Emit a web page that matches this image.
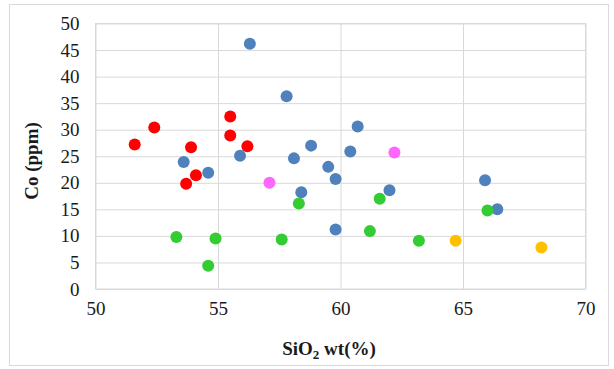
<!DOCTYPE html>
<html>
<head>
<meta charset="utf-8">
<script src="https://cdn.jsdelivr.net/npm/d3@7"></script>
<style>
  body { margin: 0; background: #fff; }
</style>
</head>
<body>
<div class="scatter"></div>
<script>
const xTicks = [50, 55, 60, 65, 70];
const yTicks = [0, 5, 10, 15, 20, 25, 30, 35, 40, 45, 50];

// SiO2 wt% / Co ppm per group
const redSiO2 = [51.6, 52.4, 53.9, 55.5, 55.5, 56.2, 54.1, 53.7];
const redCo = [27.2, 30.4, 26.7, 32.5, 28.9, 26.9, 21.4, 19.8];

const blueSiO2 = [56.3, 57.8, 60.7, 58.8, 60.4, 55.9, 58.1, 54.6, 59.5, 59.8, 58.4, 62.0, 59.8, 53.6, 65.9, 66.4];
const blueCo = [46.2, 36.3, 30.6, 27.0, 25.9, 25.1, 24.6, 21.9, 23.0, 20.7, 18.2, 18.6, 11.2, 23.9, 20.5, 15.0];

const greenSiO2 = [58.3, 61.6, 61.2, 54.9, 57.6, 54.6, 53.3, 66.0, 63.2];
const greenCo = [16.1, 17.0, 10.9, 9.5, 9.3, 4.4, 9.8, 14.8, 9.1];

const pinkSiO2 = [57.1, 62.2];
const pinkCo = [20.0, 25.7];

const orangeSiO2 = [64.7, 68.2];
const orangeCo = [9.1, 7.8];

const groups = [
  { x: redSiO2, y: redCo, color: '#ff0000' },
  { x: blueSiO2, y: blueCo, color: '#4f81bd' },
  { x: greenSiO2, y: greenCo, color: '#33cc33' },
  { x: pinkSiO2, y: pinkCo, color: '#ff66ff' },
  { x: orangeSiO2, y: orangeCo, color: '#ffc000' },
];

const serif = 'Liberation Serif';
const width = 614;
const height = 369;
const margin = { top: 23.5, right: 28.5, bottom: 80, left: 95.5 };

const svg = d3
  .select('.scatter')
  .append('svg')
  .attr('width', width)
  .attr('height', height);

svg
  .append('rect')
  .attr('x', 9.5)
  .attr('y', 4.5)
  .attr('width', 599)
  .attr('height', 361)
  .attr('fill', 'none')
  .attr('stroke', '#d9d9d9');

const xScale = d3
  .scaleLinear()
  .domain([50, 70])
  .range([margin.left, width - margin.right]);

const yScale = d3
  .scaleLinear()
  .domain([0, 50])
  .range([height - margin.bottom, margin.top]);

const xAxis = d3
  .axisBottom(xScale)
  .tickValues(xTicks)
  .tickSize(-(yScale(0) - yScale(50)))
  .tickPadding(13);

const yAxis = d3
  .axisLeft(yScale)
  .tickValues(yTicks)
  .tickSize(-(xScale(70) - xScale(50)))
  .tickPadding(16);

const gx = svg
  .append('g')
  .attr('transform', `translate(0, ${yScale(0)})`)
  .call(xAxis);

const gy = svg
  .append('g')
  .attr('transform', `translate(${xScale(50)}, 0)`)
  .call(yAxis);

[gx, gy].forEach((g) => {
  g.select('.domain').remove();
  g.selectAll('line').attr('stroke', '#d9d9d9');
  g.selectAll('text')
    .style('font-family', serif)
    .style('font-size', '19px')
    .style('fill', '#1a1a1a');
});

svg
  .append('rect')
  .attr('x', xScale(50))
  .attr('y', yScale(50))
  .attr('width', xScale(70) - xScale(50))
  .attr('height', yScale(0) - yScale(50))
  .attr('fill', 'none')
  .attr('stroke', '#d9d9d9');

groups.forEach((grp) => {
  svg
    .append('g')
    .selectAll('circle')
    .data(grp.x)
    .enter()
    .append('circle')
    .attr('cx', (d) => xScale(d))
    .attr('cy', (d, i) => yScale(grp.y[i]))
    .attr('r', 6)
    .attr('fill', grp.color);
});

const xLabel = svg
  .append('text')
  .attr('x', 329)
  .attr('y', 355)
  .attr('text-anchor', 'middle')
  .style('font-family', serif)
  .style('fill', '#1a1a1a')
  .style('font-size', '19px')
  .style('font-weight', 'bold');
xLabel.append('tspan').text('SiO');
xLabel.append('tspan').attr('dy', 4).style('font-size', '13px').text('2');
xLabel.append('tspan').attr('dy', -4).text(' wt(%)');

svg
  .append('text')
  .attr('transform', 'rotate(-90)')
  .attr('x', -161)
  .attr('y', 38)
  .attr('text-anchor', 'middle')
  .style('font-family', serif)
  .style('fill', '#1a1a1a')
  .style('font-size', '19px')
  .style('font-weight', 'bold')
  .text('Co (ppm)');
</script>
</body>
</html>
